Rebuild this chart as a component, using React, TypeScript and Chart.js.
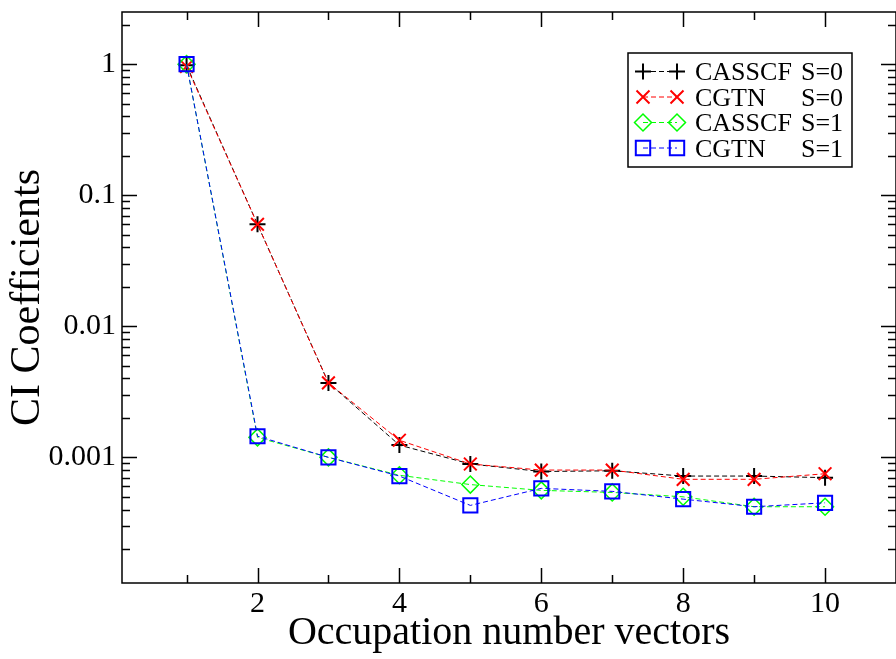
import React, { useEffect, useRef } from 'react';
import { Chart, registerables } from 'chart.js';

Chart.register(...registerables);

const occupationVectors = [1, 2, 3, 4, 5, 6, 7, 8, 9, 10];
const casscfS0 = [0.98, 0.06, 0.0037, 0.00124, 0.00089, 0.00078, 0.00079, 0.00072, 0.00072, 0.0007];
const cgtnS0 = [0.96, 0.06, 0.0037, 0.00135, 0.00089, 0.0008, 0.0008, 0.00068, 0.00068, 0.00075];
const casscfS1 = [1.0, 0.00142, 0.001, 0.00073, 0.00062, 0.00056, 0.00054, 0.0005, 0.00042, 0.00042];
const cgtnS1 = [1.0, 0.00145, 0.001, 0.00072, 0.00043, 0.00058, 0.00055, 0.00048, 0.00042, 0.00045];
const xTickLabels = [2, 4, 6, 8, 10];
const yTickLabels = [1, 0.1, 0.01, 0.001];
const seriesNames = ['CASSCF', 'CGTN', 'CASSCF', 'CGTN'];
const seriesSpins = ['S=0', 'S=0', 'S=1', 'S=1'];
const seriesColors = ['#000000', '#ff0000', '#00ff00', '#0000ff'];
const seriesSymbols = ['plus', 'cross', 'diamond', 'square'];

const FONT = "'Liberation Serif', 'Times New Roman', serif";

function drawSymbol(ctx: CanvasRenderingContext2D, kind: string, x: number, y: number, color: string) {
  ctx.save();
  ctx.strokeStyle = color;
  ctx.setLineDash([]);
  ctx.beginPath();
  if (kind === 'plus') {
    ctx.lineWidth = 2;
    ctx.moveTo(x - 8, y); ctx.lineTo(x + 8, y);
    ctx.moveTo(x, y - 8); ctx.lineTo(x, y + 8);
  } else if (kind === 'cross') {
    ctx.lineWidth = 2;
    const o = 6.5;
    ctx.moveTo(x - o, y - o); ctx.lineTo(x + o, y + o);
    ctx.moveTo(x - o, y + o); ctx.lineTo(x + o, y - o);
  } else if (kind === 'diamond') {
    ctx.lineWidth = 1.5;
    const r = 8.5;
    ctx.moveTo(x - r, y); ctx.lineTo(x, y - r); ctx.lineTo(x + r, y); ctx.lineTo(x, y + r); ctx.closePath();
  } else {
    ctx.lineWidth = 2;
    const h = 7.2;
    ctx.rect(x - h, y - h, 2 * h, 2 * h);
  }
  ctx.stroke();
  ctx.restore();
}

const framePlugin = {
  id: 'frameTicks',
  beforeDatasetsDraw(chart: any) {
    const { ctx, chartArea, scales } = chart;
    const { left, right, top, bottom } = chartArea;
    const xs = scales.x;
    const ys = scales.y;
    ctx.save();
    ctx.strokeStyle = '#000';
    ctx.lineWidth = 1.5;
    ctx.setLineDash([]);
    ctx.strokeRect(left, top, right - left, bottom - top);
    ctx.beginPath();
    for (let v = Math.ceil(xs.min); v < xs.max - 1e-6; v++) {
      const len = v % 2 === 0 ? 15 : 8;
      const px = Math.round(xs.getPixelForValue(v)) + 0.5;
      ctx.moveTo(px, bottom); ctx.lineTo(px, bottom - len);
      ctx.moveTo(px, top); ctx.lineTo(px, top + len);
    }
    for (let e = -6; e <= 2; e++) {
      for (let k = 1; k <= 9; k++) {
        const v = k * Math.pow(10, e);
        if (v < ys.min || v > ys.max) continue;
        const len = k === 1 ? 15 : 8;
        const py = Math.round(ys.getPixelForValue(v)) + 0.5;
        ctx.moveTo(left, py); ctx.lineTo(left + len, py);
        ctx.moveTo(right, py); ctx.lineTo(right - len, py);
      }
    }
    ctx.stroke();
    ctx.restore();
  },
  afterDraw(chart: any) {
    const { ctx } = chart;
    ctx.save();
    ctx.fillStyle = '#fff';
    ctx.fillRect(628, 53, 224, 114);
    ctx.strokeStyle = '#000';
    ctx.lineWidth = 1.5;
    ctx.setLineDash([]);
    ctx.strokeRect(628, 53, 224, 114);
    const rows = [71.5, 97, 122.5, 148];
    ctx.font = `26px ${FONT}`;
    ctx.fillStyle = '#000';
    ctx.textBaseline = 'alphabetic';
    ctx.textAlign = 'left';
    rows.forEach((ry, i) => {
      ctx.save();
      ctx.strokeStyle = seriesColors[i];
      ctx.lineWidth = 1;
      ctx.setLineDash([5, 3]);
      ctx.beginPath();
      ctx.moveTo(643, ry);
      ctx.lineTo(677, ry);
      ctx.stroke();
      ctx.restore();
      drawSymbol(ctx, seriesSymbols[i], 643, ry, seriesColors[i]);
      drawSymbol(ctx, seriesSymbols[i], 677, ry, seriesColors[i]);
      ctx.fillText(seriesNames[i], 695, ry + 8.6);
      ctx.fillText(seriesSpins[i], 801, ry + 8.6);
    });
    ctx.restore();
  },
};

function makeDataset(values: number[], i: number) {
  const styleMap: Record<string, any> = {
    plus: { pointStyle: 'cross', pointRadius: 8, pointBorderWidth: 2 },
    cross: { pointStyle: 'crossRot', pointRadius: 9, pointBorderWidth: 2 },
    diamond: { pointStyle: 'rectRot', pointRadius: 8.5, pointBorderWidth: 1.5 },
    square: { pointStyle: 'rect', pointRadius: 10, pointBorderWidth: 2 },
  };
  return {
    label: `${seriesNames[i]} ${seriesSpins[i]}`,
    data: occupationVectors.map((x, j) => ({ x, y: values[j] })),
    borderColor: seriesColors[i],
    pointBorderColor: seriesColors[i],
    pointBackgroundColor: 'rgba(0,0,0,0)',
    backgroundColor: 'rgba(0,0,0,0)',
    borderWidth: 1,
    borderDash: [5, 3],
    fill: false,
    tension: 0,
    order: 4 - i,
    ...styleMap[seriesSymbols[i]],
  };
}

function zeroPadding(s: any) {
  s.paddingTop = 0;
  s.paddingBottom = 0;
  s.paddingLeft = 0;
  s.paddingRight = 0;
}

export default function App() {
  const canvasRef = useRef<HTMLCanvasElement | null>(null);

  useEffect(() => {
    if (!canvasRef.current) return;
    const chart = new Chart(canvasRef.current, {
      type: 'line',
      data: {
        datasets: [
          makeDataset(casscfS0, 0),
          makeDataset(cgtnS0, 1),
          makeDataset(casscfS1, 2),
          makeDataset(cgtnS1, 3),
        ],
      },
      options: {
        responsive: false,
        animation: false,
        devicePixelRatio: 1,
        layout: { autoPadding: false, padding: { top: 12, right: 0, left: 0, bottom: 0 } },
        plugins: {
          legend: { display: false },
          tooltip: { enabled: false },
        },
        scales: {
          x: {
            type: 'linear',
            min: 0.09,
            max: 11,
            grid: { display: false, drawTicks: false },
            border: { display: false },
            ticks: {
              color: '#000',
              font: { family: FONT, size: 30 },
              padding: 3,
              maxRotation: 0,
              autoSkip: false,
            },
            afterBuildTicks: (s: any) => {
              s.ticks = xTickLabels.map((v) => ({ value: v }));
            },
            afterFit: (s: any) => {
              s.height = 76;
              zeroPadding(s);
            },
            title: {
              display: true,
              text: 'Occupation number vectors',
              color: '#000',
              font: { family: FONT, size: 40 },
              padding: { top: 0, bottom: 2 },
            },
          },
          y: {
            type: 'logarithmic',
            min: 1.1e-4,
            max: 2.5,
            grid: { display: false, drawTicks: false },
            border: { display: false },
            ticks: {
              color: '#000',
              font: { family: FONT, size: 30 },
              padding: 6,
              autoSkip: false,
              callback: (v: any) => String(v),
            },
            afterBuildTicks: (s: any) => {
              s.ticks = yTickLabels.map((v) => ({ value: v }));
            },
            afterFit: (s: any) => {
              s.width = 122;
              zeroPadding(s);
            },
            title: {
              display: true,
              text: 'CI Coefficients',
              color: '#000',
              font: { family: FONT, size: 42 },
              padding: { top: 3, bottom: 0 },
            },
          },
        },
      },
      plugins: [framePlugin],
    } as any);
    return () => chart.destroy();
  }, []);

  return (
    <div style={{ position: 'absolute', left: 0, top: 0, width: 896, height: 659, background: '#fff' }}>
      <canvas ref={canvasRef} width={896} height={659} style={{ display: 'block' }} />
    </div>
  );
}
